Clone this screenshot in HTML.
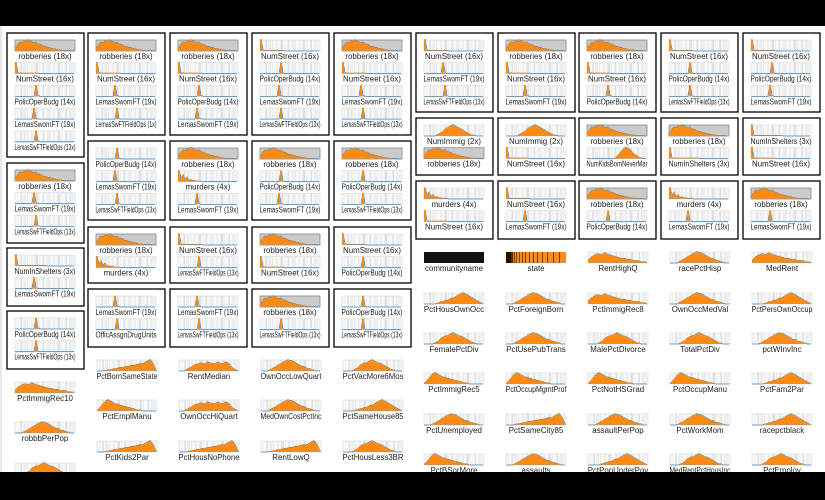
<!DOCTYPE html>
<html><head><meta charset="utf-8"><style>
html,body{margin:0;padding:0;background:#fff;width:825px;height:500px;overflow:hidden}
svg{display:block}
text{font-family:"Liberation Sans",sans-serif;font-size:8.6px;fill:#222;text-anchor:middle}
</style></head><body>
<svg id="main" width="825" height="500" viewBox="0 0 825 500">
<rect x="0" y="0" width="825" height="26" fill="#000"/>
<rect x="0" y="472" width="825" height="28" fill="#000"/>
<rect x="0" y="26" width="2" height="446" fill="#e8e8e8"/>
</svg>
<script>
// ---- distribution shape data (30 bins each) ----
const robberies=[3,6,8,7,9,8,10,9,8,7,8,6,6,5,4,4,3,3,2,2,1.5,1,1,0.5,0.5,0.3,0.2,0.1,0,0];
const numStreet=[10,1,0.5,0.5,0.5,0.5,0.5,0.5,0.5,0.5,0.5,0.5,0,0,0,0,0,0,0,0,0,0,0,0,0,0,0,0,0,0];
const murders=[10,3,6,2,4,1,2,1,1,0.5,0.5,0.5,0,0,0,0,0,0,0,0,0,0,0,0,0,0,0,0,0,0];
const policOperBudg=[0,0,0,0,0,0,0,0,0,0,10,1,0,0,0,0,0,0,0,0,0,0,0,0,0,0,0,0,0,0];
const lemasSwornFT=[0,0,0,0,0,0,0,0,0,10,1,0,0,0,0,0,0,0,0,0,0,0,0,0,0,0,0,0,0,0];
const lemasSwFTFieldOps=[0,0,0,0,0,0,0,0,0,0,10,0.5,0,0,0,0,0,0,0,0,0,0,0,0,0,0,0,0,0,0];
const numInShelters=[10,0.5,0.5,0.5,0.5,0.5,0.5,0.5,0.5,0.5,0.5,0.5,0.5,0.5,0.5,0.3,0,0,0,0,0,0,0,0,0,0,0,0,0,0];
const numImmig=[0,0,0,0,0,0,1,2,3,4,6,7,8,9,10,9,8,7,6,5,4,3,2,1,1,0.5,0,0,0,0];
const kidsNever=[0,0,0,0,0,0,0,0,0,0,0,0,0,0,1,3,5,7,9,10,9,8,6,4,3,2,1,0.5,0,0];
const hRight=[0,0,0,0,0.5,1,1,1.5,2,2,2.5,3,3,3.5,4,4,4.5,5,5,5.5,6,6.5,6,7,8,9,10,8,5,1];
const hBroad=[0,0,0,1,2,3,4,5,6,6,7,7,6,7,8,7,7,6,7,8,7,6,7,8,7,5,3,2,1,0];
const hCenter=[0,0,0,0,1,2,3,4,5,6,7,8,9,10,9,9,8,7,6,5,4,4,3,2,2,1,1,0,0,0];
const hLeft=[1,3,5,7,9,10,9,8,7,6,6,5,5,4,4,3,3,2,2,1,1,1,0,0,0,0,0,0,0,0];
const hSkewR=[0,0,0,0,0,0,1,1,2,2,3,3,4,5,5,6,7,8,9,10,9,8,7,6,5,4,3,2,1,0];
const hFlat=[3,5,6,7,8,8,7,8,9,8,7,7,6,6,5,5,4,4,4,3,3,3,2,2,2,2,1,1,1,0];
const hMid=[0,0,0,0,0,1,2,3,5,6,7,7,8,9,10,9,8,7,7,6,5,4,3,2,1,1,0,0,0,0];
const shapes={robberies,numStreet,murders,policOperBudg,lemasSwornFT,lemasSwFTFieldOps,numInShelters,numImmig,kidsNever,hRight,hBroad,hCenter,hLeft,hSkewR,hFlat,hMid};
const stripePos=[0.04,0.09,0.14,0.2,0.27,0.34,0.4,0.46,0.53,0.58,0.64,0.71,0.77,0.84,0.9,0.96];

const labelShape={"robberies (18x)":"robberies","NumStreet (16x)":"numStreet","PolicOperBudg (14x)":"policOperBudg","LemasSwornFT (19x)":"lemasSwornFT","LemasSwFTFieldOps (13x)":"lemasSwFTFieldOps","LemasSwFTFieldOps (1x)":"lemasSwFTFieldOps","NumInShelters (3x)":"numInShelters","murders (4x)":"murders","OfficAssgnDrugUnits":"lemasSwFTFieldOps","NumImmig (2x)":"numImmig","NumKidsBornNeverMar":"kidsNever"};

const R="robberies (18x)",NS="NumStreet (16x)",PB="PolicOperBudg (14x)",LS="LemasSwornFT (19x)",LF="LemasSwFTFieldOps (13x)",SH="NumInShelters (3x)",MU="murders (4x)";
const boxes=[
[7,33,157,[R,NS,PB,LS,LF]],[7,163,243,[R,LS,LF]],[7,248,306,[SH,LS]],[7,311,369,[PB,LF]],
[88,33,135,[R,NS,LS,"LemasSwFTFieldOps (1x)"]],[88,141,220,[PB,LS,LF]],[88,227,283,[R,MU]],[88,289,347,[LS,"OfficAssgnDrugUnits"]],
[170,33,135,[R,NS,PB,LS]],[170,141,220,[R,MU,LS]],[170,227,283,[NS,LF]],[170,289,347,[LS,LF]],
[252,33,135,[NS,PB,LS,LF]],[252,141,220,[R,PB,LS]],[252,227,283,[R,NS]],[252,289,347,[R,LF]],
[334,33,135,[R,NS,LS,LF]],[334,141,220,[R,PB,LF]],[334,227,283,[NS,PB]],[334,289,347,[PB,LF]],
[416,33,112,[NS,LS,LF]],[498,33,112,[R,NS,LS]],[579,33,112,[R,NS,PB]],[661,33,112,[NS,PB,LF]],[743,33,112,[NS,PB,LS]],
[416,118,175,["NumImmig (2x)",R]],[498,118,175,["NumImmig (2x)",NS]],[579,118,175,[R,"NumKidsBornNeverMar"]],[661,118,175,[R,SH]],[743,118,175,[SH,NS]],
[416,181,239,[MU,NS]],[498,181,239,[NS,LS]],[579,181,239,[R,PB]],[661,181,239,[MU,LS]],[743,181,239,[R,LS]]
];
const freeLabels=[
["PctBornSameState","hRight"],["RentMedian","hBroad"],["OwnOccLowQuart","hCenter"],["PctVacMore6Mos","hMid"],
["PctEmplManu","hLeft"],["OwnOccHiQuart","hBroad"],["MedOwnCostPctInc","hCenter"],["PctSameHouse85","hSkewR"],
["PctKids2Par","hRight"],["PctHousNoPhone","hRight"],["RentLowQ","hRight"],["PctHousLess3BR","hMid"]];
const rightLabels=[
["communityname","black"],["state","state"],["RentHighQ","hFlat"],["racePctHisp","hCenter"],["MedRent","hFlat"],
["PctHousOwnOcc","hSkewR"],["PctForeignBorn","hCenter"],["PctImmigRec8","hFlat"],["OwnOccMedVal","hCenter"],["PctPersOwnOccup","hSkewR"],
["FemalePctDiv","hMid"],["PctUsePubTrans","hCenter"],["MalePctDivorce","hMid"],["TotalPctDiv","hMid"],["pctWInvInc","hCenter"],
["PctImmigRec5","hLeft"],["PctOccupMgmtProf","hLeft"],["PctNotHSGrad","hLeft"],["PctOccupManu","hLeft"],["PctFam2Par","hSkewR"],
["PctUnemployed","hCenter"],["PctSameCity85","hRight"],["assaultPerPop","hCenter"],["PctWorkMom","hCenter"],["racepctblack","hSkewR"],
["PctBSorMore","hLeft"],["assaults","hCenter"],["PctPopUnderPov","hSkewR"],["MedRentPctHousInc","hMid"],["PctEmploy","hMid"]];
const leftColLabels=[["PctImmigRec10","hFlat"],["robbbPerPop","hCenter"],["","hMid"]];

const NS_="http://www.w3.org/2000/svg";
const svg=document.getElementById('main');
const W=60,H=11;
function el(tag,attrs,parent){const e=document.createElementNS(NS_,tag);for(const k in attrs)e.setAttribute(k,attrs[k]);(parent||svg).appendChild(e);return e;}
function slug(s){return s.replace(/\(.*?\)/g,'').trim().replace(/([a-z])([A-Z])/g,'$1-$2').toLowerCase().replace(/[^a-z0-9]+/g,'-').replace(/-$/,'')||'unnamed';}

function chart(x,y,label,shapeName){
  const g=el('g',{});
  
  
  if(shapeName==='black'){
    el('rect',{x:x,y:y,width:W,height:H,fill:'#111'},g);
  }else if(shapeName==='state'){
    el('rect',{x:x,y:y,width:W,height:H,fill:'#ff8c1a'},g);
    const dark=[0,1,2,3,4,5,6,8,10,13,16,19,23,27,31,36,41,47,53];
    dark.forEach((d,i)=>el('rect',{x:x+d,y:y,width:i<7?1.2:0.8,height:H,fill:i<5?'#221100':'#553300'},g));
  }else{
    const data=shapes[shapeName];
    const grey=shapeName==='robberies';
    el('rect',{x:x,y:y,width:W,height:H,fill:grey?'#cbcbcb':'#f8f8f8',stroke:grey?'#888':'#d8d8d8','stroke-width':grey?0.8:0.6},g);
    if(!grey) stripePos.forEach((p,i)=>el('rect',{x:x+p*W,y:y,width:(i%3)+0.6,height:H,fill:i%2?'#e0e0e0':'#ececec'},g));
    const bw=W/data.length, max=10;
    const sx=i=>x+i*bw, sy=v=>y+H-(v/max)*H;
    let d='M'+x+','+(y+H);
    data.forEach((v,i)=>{d+=' L'+sx(i)+','+sy(v)+' L'+sx(i+1)+','+sy(v);});
    d+=' L'+(x+W)+','+(y+H)+' Z';
    let line='M'+x+','+sy(data[0]);
    data.forEach((v,i)=>{line+=' L'+sx(i+0.5)+','+sy(Math.max(v*1.04,v>0?0.4:0));});
    el('path',{d:line,fill:'none',stroke:'#3d85c6','stroke-width':0.8},g);
    el('path',{d:d,fill:'#ff8a12'},g);
  }
  if(label){
    const t=el('text',{x:x+W/2,y:y+H+8},g);
    
    
    t.textContent=label;
    const natural=t.getComputedTextLength();
    const target=Math.min(natural*0.92,61);
    t.setAttribute('textLength',target.toFixed(1));
    t.setAttribute('lengthAdjust','spacingAndGlyphs');
  }
}

boxes.forEach((b)=>{
  const r=el('rect',{x:b[0],y:b[1],width:77,height:b[2]-b[1],fill:'none',stroke:'#000','stroke-width':1.3});
  
  
  b[3].forEach((lab,i)=>chart(b[0]+8,b[1]+7+i*22.7,lab,labelShape[lab]));
});
const fx=[97,179,261,343], fy=[360,400,441];
freeLabels.forEach((f,i)=>chart(fx[i%4],fy[Math.floor(i/4)],f[0],f[1]));
const rx=[424,506,588,670,752], ry=[252,293,333,373,414,454];
rightLabels.forEach((f,i)=>chart(rx[i%5],ry[Math.floor(i/5)],f[0],f[1]));
const ly=[382,422,463];
leftColLabels.forEach((f,i)=>chart(15,ly[i],f[0],f[1]));
const bb=el('rect',{x:0,y:472,width:825,height:28,fill:'#000'});


</script>
</body></html>
